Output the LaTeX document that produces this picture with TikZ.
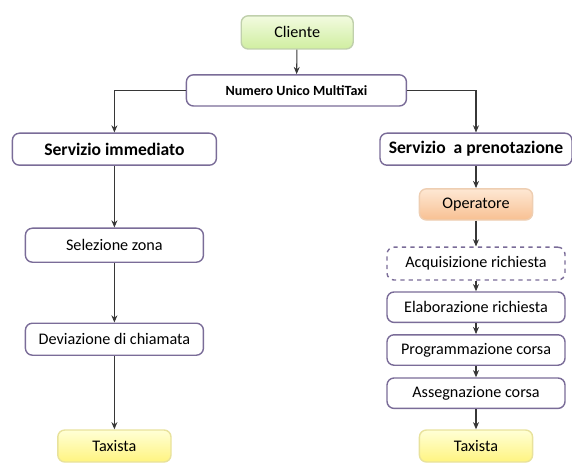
\documentclass[tikz,border=0pt]{standalone}
\usepackage{fontspec}
\setmainfont{Carlito}
\usepackage{xcolor}
\definecolor{mtframe}{RGB}{122,108,152}
\definecolor{mtarrow}{RGB}{55,55,55}
\definecolor{mtgreentop}{RGB}{242,251,224}
\definecolor{mtgreenbot}{RGB}{208,238,160}
\definecolor{mtgreenline}{RGB}{192,208,172}
\definecolor{mtorangetop}{RGB}{254,232,212}
\definecolor{mtorangebot}{RGB}{248,192,146}
\definecolor{mtorangeline}{RGB}{238,206,178}
\definecolor{mtyellowtop}{RGB}{255,255,214}
\definecolor{mtyellowbot}{RGB}{255,244,128}
\definecolor{mtyellowline}{RGB}{232,226,156}
\usetikzlibrary{arrows.meta, positioning}

\tikzset{
  stepbox/.style={draw=mtframe, line width=1pt, fill=white, rounded corners=5pt,
      minimum height=0.8cm, align=center, font=\fontsize{11.5}{14}\selectfont},
  headbox/.style={stepbox, font=\fontsize{12.5}{15}\selectfont\bfseries},
  greenbox/.style={stepbox, draw=mtgreenline, top color=mtgreentop, bottom color=mtgreenbot},
  orangebox/.style={stepbox, draw=mtorangeline, top color=mtorangetop, bottom color=mtorangebot},
  yellowbox/.style={stepbox, draw=mtyellowline, top color=mtyellowtop, bottom color=mtyellowbot},
  flow/.style={-{Stealth[length=1.8mm, width=1.5mm]}, mtarrow, line width=0.75pt}
}

\begin{document}
\begin{tikzpicture}

\useasboundingbox (0,0) rectangle (14.3,-11.55);

% === Top: caller and single number ===
\node[greenbox, minimum width=2.8cm, minimum height=0.83cm] (cliente) at (7.43,-0.81) {Cliente};

\node[stepbox, minimum width=5.5cm, minimum height=0.78cm,
      font=\fontsize{10}{12}\selectfont\bfseries] (numero) at (7.41,-2.26) {Numero Unico MultiTaxi};

\draw[flow] (cliente) -- (numero);

% === Two services ===
\node[headbox, minimum width=5.1cm] (immediato) at (2.86,-3.73) {Servizio immediato};
\node[headbox, minimum width=4.8cm] (prenota) at (11.9,-3.73) {Servizio \ a prenotazione};

\draw[flow] (numero.west) -| (immediato.north);
\draw[flow] (numero.east) -| (prenota.north);

% === Left column: immediate service ===
\node[stepbox, minimum width=4.45cm, minimum height=0.85cm] (zona) at (2.86,-6.13) {Selezione zona};
\node[stepbox, minimum width=4.45cm] (deviazione) at (2.86,-8.48) {Deviazione di chiamata};
\node[yellowbox, minimum width=2.83cm] (taxiL) at (2.86,-11.15) {Taxista};

\draw[flow] (immediato) -- (zona);
\draw[flow] (zona) -- (deviazione);
\draw[flow] (deviazione) -- (taxiL);

% === Right column: booking service ===
\node[orangebox, minimum width=2.83cm, minimum height=0.78cm] (operatore) at (11.9,-5.11) {Operatore};
\node[stepbox, dashed, minimum width=4.45cm, minimum height=0.82cm] (acquisizione) at (11.9,-6.59) {Acquisizione richiesta};
\node[stepbox, minimum width=4.45cm, minimum height=0.76cm] (elaborazione) at (11.9,-7.68) {Elaborazione richiesta};
\node[stepbox, minimum width=4.45cm, minimum height=0.76cm] (programma) at (11.9,-8.75) {Programmazione corsa};
\node[stepbox, minimum width=4.45cm, minimum height=0.76cm] (assegna) at (11.9,-9.83) {Assegnazione corsa};
\node[yellowbox, minimum width=2.83cm] (taxiR) at (11.9,-11.15) {Taxista};

\draw[flow] (prenota) -- (operatore);
\draw[flow] (operatore) -- (acquisizione);
\draw[flow] (acquisizione) -- (elaborazione);
\draw[flow] (elaborazione) -- (programma);
\draw[flow] (programma) -- (assegna);
\draw[flow] (assegna) -- (taxiR);

\end{tikzpicture}
\end{document}
